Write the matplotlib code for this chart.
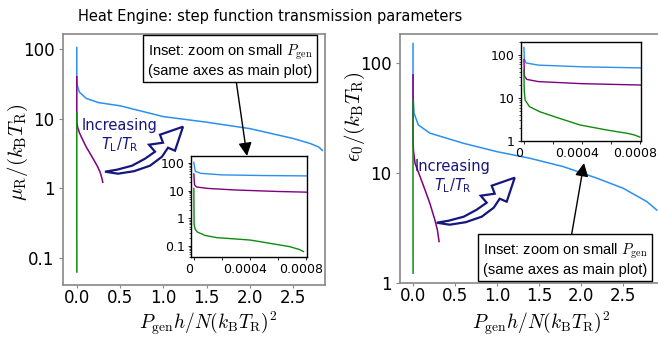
import matplotlib
matplotlib.use("Agg")
import matplotlib.pyplot as plt
from matplotlib.patches import Polygon, FancyArrowPatch
from matplotlib.ticker import NullLocator, LogLocator, NullFormatter
from matplotlib.transforms import ScaledTranslation

plt.rcParams['font.family'] = ['DejaVu Sans']
plt.rcParams['mathtext.fontset'] = 'cm'

# ---------------- data ----------------
# mu_R / (k_B T_R)  vs  P_gen h / N (k_B T_R)^2
mu_blue_x = [0, 1e-5, 5e-5, 0.0002, 0.0005, 0.0008, 0.005, 0.03, 0.11, 0.25, 0.5, 1.0, 1.5, 2.0, 2.5, 2.7, 2.8, 2.84]
mu_blue_y = [105, 50, 42, 37, 35, 34, 30, 24, 19.5, 17, 15.3, 10.7, 8.9, 7.2, 5.2, 4.4, 3.9, 3.5]
mu_purple_x = [0, 5e-6, 2e-5, 0.0001, 0.0003, 0.0006, 0.0008, 0.01, 0.03, 0.054, 0.11, 0.19, 0.24, 0.27, 0.29, 0.30]
mu_purple_y = [40, 16, 13.5, 12, 10.5, 9.3, 8.8, 7.5, 6.3, 5.4, 3.9, 2.65, 2.05, 1.7, 1.4, 1.22]
mu_green_x = [0, 2e-6, 1e-5, 2.5e-5, 8e-5, 0.000165, 0.0004, 0.00052, 0.00068, 0.00075, 0.00078]
mu_green_y = [12, 0.6, 0.4, 0.32, 0.24, 0.2, 0.164, 0.13, 0.095, 0.075, 0.063]

# epsilon_0 / (k_B T_R)
eps_blue_x = [0, 3e-6, 1.5e-5, 0.0001, 0.0004, 0.0008, 0.012, 0.063, 0.2, 0.6, 1.0, 1.39, 1.79, 2.19, 2.5, 2.78, 2.9]
eps_blue_y = [150, 80, 65, 58, 53, 50, 34.9, 27.3, 23.0, 18.6, 15.6, 13.6, 11.4, 8.95, 7.26, 5.5, 4.6]
eps_purple_x = [0, 4e-6, 2e-5, 0.0001, 0.0004, 0.0008, 0.005, 0.024, 0.083, 0.143, 0.2, 0.26, 0.29, 0.31]
eps_purple_y = [78, 32, 27, 24, 21.5, 20, 16, 12.2, 9.3, 7.0, 5.3, 3.74, 3.03, 2.38]
eps_green_x = [0, 2e-6, 8e-6, 3.8e-5, 0.000108, 0.000223, 0.000385, 0.00057, 0.00071, 0.00076, 0.000797]
eps_green_y = [45, 15, 9, 6.3, 4.8, 3.55, 2.36, 1.8, 1.51, 1.38, 1.23]

colors = ['#2b8ff0', '#800080', '#108a10']
mu_series = [(mu_blue_x, mu_blue_y), (mu_purple_x, mu_purple_y), (mu_green_x, mu_green_y)]
eps_series = [(eps_blue_x, eps_blue_y), (eps_purple_x, eps_purple_y), (eps_green_x, eps_green_y)]

main_xticks = [0.0, 0.5, 1.0, 1.5, 2.0, 2.5]
main_xticklabels = ['0.0', '0.5', '1.0', '1.5', '2.0', '2.5']
inset_xticks = [0, 0.0002, 0.0004, 0.0006, 0.0008]
inset_xticklabels = ['0', '', '0.0004', '', '0.0008']
mu_yticks = [0.1, 1, 10, 100]
mu_yticklabels = ['0.1', '1', '10', '100']
eps_yticks = [1, 10, 100]
eps_yticklabels = ['1', '10', '100']

W, H = 658, 337
fig = plt.figure(figsize=(W / 100, H / 100), dpi=100)

ax1 = fig.add_axes([0.0957, 0.1543, 0.3982, 0.7448])
ax2 = fig.add_axes([0.6079, 0.1602, 0.4286, 0.7389])
in1 = fig.add_axes([0.2903, 0.2374, 0.1763, 0.2997])
in2 = fig.add_axes([0.7918, 0.5816, 0.1824, 0.2938])

def style_main(ax, series, yticks, ylabels, ylim, xlim):
    for (x, y), c in zip(series, colors):
        ax.plot(x, y, color=c, lw=1.1)
    ax.set_yscale('log')
    ax.set_ylim(*ylim)
    ax.set_xlim(*xlim)
    ax.set_yticks(yticks)
    ax.set_yticklabels(ylabels)
    ax.yaxis.set_minor_locator(NullLocator())
    ax.set_xticks(main_xticks)
    ax.set_xticklabels(main_xticklabels)
    ax.tick_params(axis='both', labelsize=12, length=3, color='#888888', width=0.8, pad=3)
    ax.tick_params(axis='x', length=2, pad=1)
    for s in ax.spines.values():
        s.set_color('#888888')
        s.set_linewidth(1.2)

style_main(ax1, mu_series, mu_yticks, mu_yticklabels, (0.041, 164), (-0.16, 2.87))
style_main(ax2, eps_series, eps_yticks, eps_yticklabels, (1, 183), (-0.155, 3.2))

def style_inset(ax, series, yticks, ylabels, ylim):
    for (x, y), c in zip(series, colors):
        ax.plot(x, y, color=c, lw=1.0)
    ax.set_yscale('log')
    ax.set_ylim(*ylim)
    ax.set_xlim(-0.00002, 0.000805)
    ax.set_yticks(yticks)
    ax.set_yticklabels(ylabels)
    ax.yaxis.set_minor_locator(LogLocator(base=10, subs=range(2, 10)))
    ax.yaxis.set_minor_formatter(NullFormatter())
    ax.set_xticks(inset_xticks)
    ax.set_xticklabels(inset_xticklabels)
    ax.tick_params(axis='both', which='major', labelsize=9, length=2.5, width=0.6, pad=2)
    ax.tick_params(axis='y', which='minor', length=1.2, width=0.5)
    shift = ScaledTranslation(-5 / 100, 0, fig.dpi_scale_trans)
    for lab in ax.get_xticklabels():
        lab.set_transform(lab.get_transform() + shift)
    for s in ax.spines.values():
        s.set_color('black')
        s.set_linewidth(1.0)

style_inset(in1, mu_series, mu_yticks, mu_yticklabels, (0.04, 178))
style_inset(in2, eps_series, eps_yticks, eps_yticklabels, (1, 200))

# axis labels
xl = r'$P_{\rm gen}h/N(k_{\rm B}T_{\rm R})^2$'
fig.text(208 / W, 1 - 323 / H, xl, ha='center', va='center', fontsize=14)
fig.text(541 / W, 1 - 323 / H, xl, ha='center', va='center', fontsize=14)
fig.text(18 / W, 1 - 152 / H, r'$\mu_{\rm R}/(k_{\rm B}T_{\rm R})$', ha='center', va='center',
         rotation=90, fontsize=15)
fig.text(355 / W, 1 - 117 / H, r'$\epsilon_0/(k_{\rm B}T_{\rm R})$', ha='center', va='center',
         rotation=90, fontsize=15)

fig.text(270 / W, 1 - 16 / H, 'Heat Engine: step function transmission parameters',
         ha='center', va='center', fontsize=10.5)

# inset annotation boxes with arrows
box_txt = 'Inset: zoom on small $P_{\\rm gen}$\n(same axes as main plot)'
for (bx, by), (tx, ty), (hx, hy) in [((230, 60), (236, 80), (247, 156)),
                                     ((565, 259), (571, 238), (584, 163))]:
    fig.text(bx / W, 1 - by / H, box_txt, ha='center', va='center', fontsize=10.5,
             family='Liberation Sans', linespacing=1.15,
             bbox=dict(boxstyle='square,pad=0.3', fc='white', ec='black', lw=1.0))
    fig.add_artist(FancyArrowPatch(
        (tx / W, 1 - ty / H), (hx / W, 1 - hy / H), transform=fig.transFigure,
        arrowstyle='-|>', mutation_scale=20, color='black', lw=1.0, shrinkA=0, shrinkB=0))

# "Increasing T_L/T_R" lightning arrows
navy = '#16167f'
shape = [(0, 0), (12, -2), (27, -6), (40, -13), (50, -20), (44, -27), (58, -29), (55, -37),
         (78, -45), (70, -21), (63, -24), (57, -15), (45, -6), (29, -0.5), (13, 2)]
for (ax0, ay0), (lx, ly) in [((105, 171.7), (120, 136)), ((436.7, 222.7), (453, 177))]:
    pts = [((ax0 + dx) / W, 1 - (ay0 + dy) / H) for dx, dy in shape]
    fig.add_artist(Polygon(pts, closed=True, fc='white', ec=navy, lw=1.6,
                           transform=fig.transFigure, zorder=5))
    fig.text(lx / W, 1 - ly / H, 'Increasing\n$T_{\\rm L}/T_{\\rm R}$', ha='center', va='center',
             fontsize=10.5, color=navy, math_fontfamily='dejavusans', linespacing=1.2)

fig.savefig('out.png', dpi=100)
